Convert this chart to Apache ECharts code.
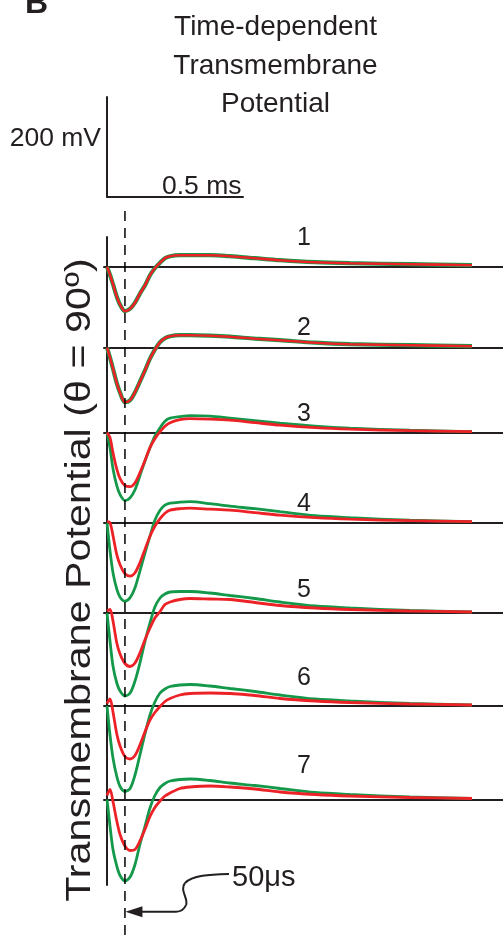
<!DOCTYPE html>
<html>
<head>
<meta charset="utf-8">
<script src="https://cdn.jsdelivr.net/npm/echarts@6/dist/echarts.min.js"></script>
<style>html,body{margin:0;padding:0;background:#fff;}#c{width:503px;height:935px;}</style>
</head>
<body>
<div id="c"></div>
<script>
// ---- data (time in ms, potential in mV relative to each trace's baseline) ----
const time = [0, 0.011, 0.022, 0.036, 0.048, 0.066, 0.085, 0.103, 0.121, 0.14, 0.158, 0.176, 0.195, 0.213, 0.232, 0.268, 0.305, 0.379, 0.452, 0.544, 0.636, 0.765, 0.893, 1.114, 1.342];
const trace1Green = [0, -16, -35, -60, -76, -89, -84, -72, -54, -37, -17, -3, 8, 17, 21, 23, 23, 23, 21, 17, 13, 9, 7, 5, 3];
const trace1Red   = [0, -16, -35, -60, -76, -89, -84, -72, -54, -37, -17, -3, 8, 17, 21, 23, 23, 23, 21, 17, 13, 9, 7, 5, 3];
const trace2Green = [0, -20, -42, -71, -90, -109, -105, -89, -68, -45, -22, -4, 11, 19, 23, 25, 25, 24, 22, 18, 15, 10, 7, 5, 3];
const trace2Red   = [0, -20, -42, -71, -90, -109, -105, -89, -68, -45, -22, -4, 11, 19, 23, 25, 25, 24, 22, 18, 15, 10, 7, 5, 3];
const trace3Green = [0, -30, -72, -106, -124, -136, -130, -114, -86, -56, -30, -7, 10, 23, 29, 32, 34, 33, 29, 24, 19, 13, 9, 5, 2];
const trace3Red   = [0, -10, -40, -73, -92, -106, -108, -100, -80, -55, -30, -12, 2, 13, 20, 26, 28, 27, 25, 20, 15, 10, 7, 4, 2];
const trace4Green = [0, -56, -100, -133, -149, -157, -150, -130, -97, -60, -27, 5, 25, 35, 39, 41, 42, 38, 33, 28, 22, 14, 10, 5, 2];
const trace4Red   = [2, 0, -26, -64, -84, -102, -107, -100, -80, -53, -27, -7, 8, 19, 25, 28, 29, 27, 25, 20, 15, 10, 7, 4, 2];
const trace5Green = [0, -56, -106, -140, -156, -166, -160, -136, -100, -56, -20, 12, 30, 38, 42, 43, 43, 40, 35, 29, 22, 14, 10, 5, 2];
const trace5Red   = [4, 7, -16, -60, -82, -101, -107, -100, -80, -53, -30, -10, 3, 17, 22, 27, 29, 28, 27, 21, 15, 10, 7, 4, 2];
const trace6Green = [0, -58, -104, -141, -161, -171, -165, -138, -98, -55, -18, 8, 26, 34, 39, 42, 43, 40, 35, 29, 22, 14, 10, 5, 2];
const trace6Red   = [5, 14, -12, -56, -80, -101, -106, -99, -78, -51, -28, -13, -1, 9, 15, 22, 25, 26, 25, 21, 15, 10, 7, 4, 2];
const trace7Green = [0, -53, -100, -133, -152, -163, -155, -130, -90, -53, -17, 8, 24, 32, 37, 40, 41, 38, 33, 28, 22, 14, 10, 5, 2];
const trace7Red   = [8, 20, -4, -43, -70, -93, -102, -100, -83, -59, -34, -16, -3, 7, 13, 22, 25, 27, 25, 21, 15, 10, 7, 4, 2];
const traceLabels = ['1', '2', '3', '4', '5', '6', '7'];
const scaleBarMs = 0.5, scaleBarMv = 200;
const scaleBarLabels = ['0.5 ms', '200 mV'];
const markerTimeMs = 0.066;
const markerLabel = '50\u03bcs';
const titleLines = ['Time-dependent', 'Transmembrane', 'Potential'];
const yAxisTitle = 'Transmembrane Potential (\u03b8 = 90\u00ba)';

// ---- layout ----
const W = 503, H = 935;
const pxPerMs = 272, pxPerMv = 0.5;
const originX = 107;
const gridLeft = 104;
const xMin = (gridLeft - originX) / pxPerMs, xMax = (W - originX) / pxPerMs;
const baselineY = [266.7, 347.7, 432.7, 522.7, 613, 706, 799.5];
const numberY = [238, 328, 414, 504, 590, 678, 766];
const yTop = 100, yBot = -200;
const GREEN = '#14994a', RED = '#ec2227', INK = '#231f20';
const FONT = '"Liberation Sans", Arial, Helvetica, sans-serif';

const greens = [trace1Green, trace2Green, trace3Green, trace4Green, trace5Green, trace6Green, trace7Green];
const reds = [trace1Red, trace2Red, trace3Red, trace4Red, trace5Red, trace6Red, trace7Red];

const grids = [], xAxes = [], yAxes = [], series = [];
// grid 0 : scale bar
grids.push({left: originX, top: 97, width: scaleBarMs * pxPerMs, height: scaleBarMv * pxPerMv});
xAxes.push({gridIndex: 0, type: 'value', min: 0, max: scaleBarMs, position: 'bottom',
  axisLine: {show: true, onZero: false, lineStyle: {color: INK, width: 2}}, axisTick: {show: false}, axisLabel: {show: false}, splitLine: {show: false}});
yAxes.push({gridIndex: 0, type: 'value', min: 0, max: scaleBarMv, position: 'left',
  axisLine: {show: true, onZero: false, lineStyle: {color: INK, width: 2}}, axisTick: {show: false}, axisLabel: {show: false}, splitLine: {show: false}});

// grids 1..7 : traces
for (let k = 0; k < 7; k++) {
  const gi = grids.length;
  grids.push({left: gridLeft, width: W - gridLeft, top: baselineY[k] - yTop * pxPerMv, height: (yTop - yBot) * pxPerMv});
  xAxes.push({gridIndex: gi, type: 'value', min: xMin, max: xMax,
    axisLine: {show: true, onZero: true, lineStyle: {color: INK, width: 2}}, axisTick: {show: false}, axisLabel: {show: false}, splitLine: {show: false}});
  yAxes.push({gridIndex: gi, type: 'value', min: yBot, max: yTop, show: false, splitLine: {show: false}});
  const wide = k < 2;
  series.push({type: 'line', xAxisIndex: gi, yAxisIndex: gi, data: time.map((t, i) => [t, greens[k][i]]),
    smooth: 0.3, symbol: 'none', clip: false, z: 3, lineStyle: {color: GREEN, width: wide ? 4.2 : 2.8}});
  series.push({type: 'line', xAxisIndex: gi, yAxisIndex: gi, data: time.map((t, i) => [t, reds[k][i]]),
    smooth: 0.3, symbol: 'none', clip: false, z: 4, lineStyle: {color: RED, width: wide ? 2.6 : 2.8}});
}

// grid 8 : vertical frame axis
const frameGi = grids.length;
grids.push({left: originX, top: 237, width: 10, height: 648});
xAxes.push({gridIndex: frameGi, type: 'value', min: 0, max: 1, show: false});
yAxes.push({gridIndex: frameGi, type: 'value', min: 0, max: 1, position: 'left',
  axisLine: {show: true, onZero: false, lineStyle: {color: INK, width: 2}}, axisTick: {show: false}, axisLabel: {show: false}, splitLine: {show: false}});

// grid 9 : dashed time marker
const dashGi = grids.length;
grids.push({left: gridLeft, width: W - gridLeft, top: 205, height: H - 205});
xAxes.push({gridIndex: dashGi, type: 'value', min: xMin, max: xMax, show: false});
yAxes.push({gridIndex: dashGi, type: 'value', min: 0, max: 1, show: false});
series.push({type: 'line', xAxisIndex: dashGi, yAxisIndex: dashGi, data: [[markerTimeMs, 0], [markerTimeMs, 1]],
  symbol: 'none', z: 6, lineStyle: {color: '#000000', width: 1.5, type: [10, 7]}});

// ---- text & annotation graphics ----
const graphic = [];
graphic.push({type: 'text', x: 25, y: 4, style: {text: 'B', font: 'bold 32px ' + FONT, fill: INK, textAlign: 'left', textVerticalAlign: 'middle'}});
const titleCY = [27.5, 65.8, 104.5];
titleLines.forEach((s, i) => graphic.push({type: 'text', x: 275.5, y: titleCY[i],
  style: {text: s, font: '28px ' + FONT, fill: INK, textAlign: 'center', textVerticalAlign: 'middle'}}));
graphic.push({type: 'text', x: 80, y: 580, rotation: Math.PI / 2, scaleX: 1.18, scaleY: 1,
  style: {text: yAxisTitle, font: '35px ' + FONT, fill: INK, textAlign: 'center', textVerticalAlign: 'middle'}});
graphic.push({type: 'text', x: 101, y: 138.5, style: {text: scaleBarLabels[1], font: '26.5px ' + FONT, fill: INK, textAlign: 'right', textVerticalAlign: 'middle'}});
graphic.push({type: 'text', x: 162, y: 187, style: {text: scaleBarLabels[0], font: '26.5px ' + FONT, fill: INK, textAlign: 'left', textVerticalAlign: 'middle'}});
traceLabels.forEach((s, i) => graphic.push({type: 'text', x: 304, y: numberY[i],
  style: {text: s, font: '25px ' + FONT, fill: INK, textAlign: 'center', textVerticalAlign: 'middle'}}));
graphic.push({type: 'text', x: 232, y: 877.5, style: {text: markerLabel, font: '29px ' + FONT, fill: INK, textAlign: 'left', textVerticalAlign: 'middle'}});
const tipX = originX + markerTimeMs * pxPerMs + 0.5;
const arrowY = 911.7;
const conn = {fill: null, stroke: INK, lineWidth: 2};
graphic.push({type: 'bezierCurve', z: 10, shape: {x1: 229, y1: 874, cpx1: 210, cpy1: 874.5, cpx2: 192, cpy2: 875, x2: 185, y2: 883}, style: conn});
graphic.push({type: 'bezierCurve', z: 10, shape: {x1: 185, y1: 883, cpx1: 179, cpy1: 890, cpx2: 189, cpy2: 899, x2: 186, y2: 905}, style: conn});
graphic.push({type: 'bezierCurve', z: 10, shape: {x1: 186, y1: 905, cpx1: 184, cpy1: 910, cpx2: 181, cpy2: 911.7, x2: 176, y2: arrowY}, style: conn});
graphic.push({type: 'line', z: 10, shape: {x1: 176, y1: arrowY, x2: tipX + 14, y2: arrowY}, style: conn});
graphic.push({type: 'polygon', z: 10, shape: {points: [[tipX, arrowY], [tipX + 17, arrowY - 5.5], [tipX + 17, arrowY + 5.5]]}, style: {fill: INK}});

const chart = echarts.init(document.getElementById('c'), null, {renderer: 'canvas'});
chart.setOption({
  animation: false,
  backgroundColor: '#ffffff',
  grid: grids, xAxis: xAxes, yAxis: yAxes, series: series, graphic: graphic
});
</script>
</body>
</html>
